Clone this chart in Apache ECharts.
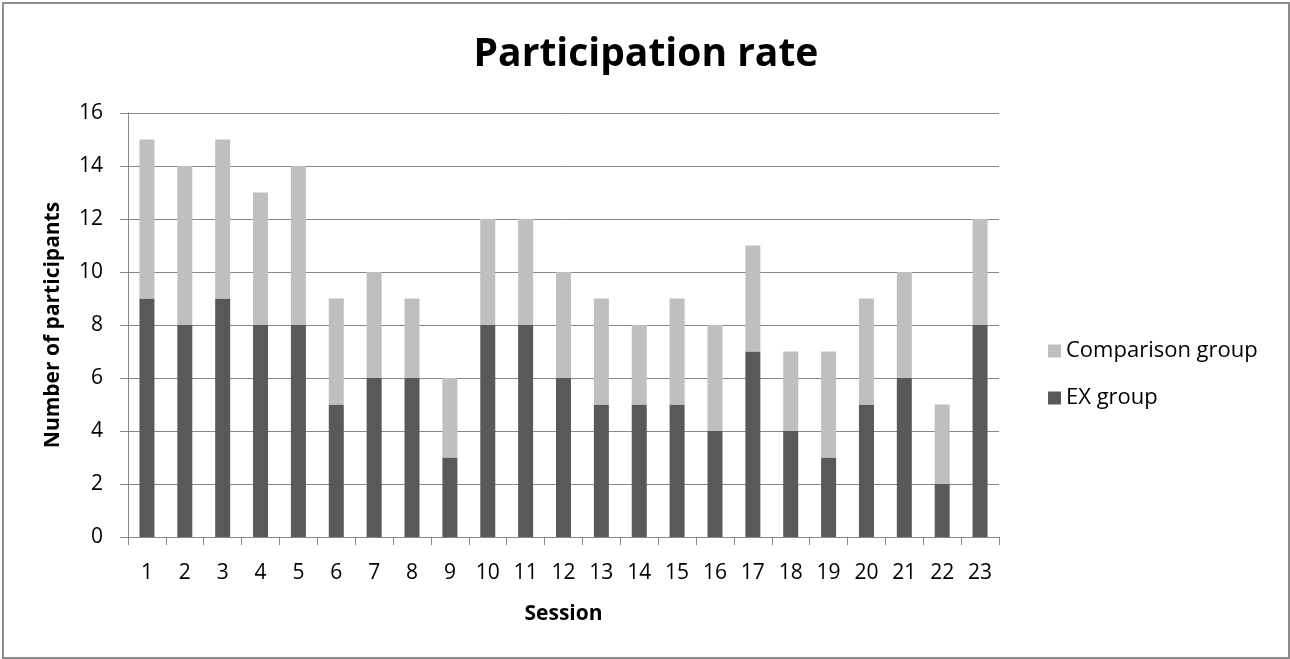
<!DOCTYPE html>
<html><head><meta charset="utf-8">
<script src="https://cdn.jsdelivr.net/npm/echarts@6/dist/echarts.min.js"></script>
<style>
html,body{margin:0;padding:0;background:#fff;}
#c{position:absolute;left:2px;top:2px;width:1284px;height:653px;border:2px solid #8c8c8c;box-sizing:content-box;}
</style></head>
<body><div id="c"></div>
<script>
const sessions = ['1','2','3','4','5','6','7','8','9','10','11','12','13','14','15','16','17','18','19','20','21','22','23'];
const exGroup = [9,8,9,8,8,5,6,6,3,8,8,6,5,5,5,4,7,4,3,5,6,2,8];
const comparisonGroup = [6,6,6,5,6,4,4,3,3,4,4,4,4,3,4,4,4,3,4,4,4,3,4];
const yTicks = [0,2,4,6,8,10,12,14,16];

const chart = echarts.init(document.getElementById('c'));
const font = 'Open Sans, Noto Sans, sans-serif';
chart.setOption({
  animation:false,
  title:{text:'Participation rate',left:'center',top:26,
    textStyle:{fontFamily:font,fontSize:39,fontWeight:'bold',color:'#000'}},
  grid:{left:124,right:289,top:109,bottom:120},
  legend:{orient:'vertical',left:1039,top:331,itemWidth:13,itemHeight:13,itemGap:25,
    icon:'rect',
    data:['Comparison group','EX group'],
    textStyle:{fontFamily:font,fontSize:22,color:'#000'}},
  xAxis:{type:'category',data:sessions,name:'Session',nameLocation:'middle',nameGap:67,
    nameTextStyle:{fontFamily:font,fontSize:21,fontWeight:'bold',color:'#000'},
    axisLine:{lineStyle:{color:'#888'}},
    axisTick:{show:true,length:8,lineStyle:{color:'#888'}},
    axisLabel:{fontFamily:font,fontSize:21,color:'#000',margin:26}},
  yAxis:{type:'value',min:0,max:16,interval:2,name:'Number of participants',nameLocation:'middle',nameGap:64,
    nameTextStyle:{fontFamily:font,fontSize:21,fontWeight:'bold',color:'#000'},
    axisLine:{show:true,lineStyle:{color:'#888'}},
    axisTick:{show:true,length:8,lineStyle:{color:'#888'}},
    splitLine:{lineStyle:{color:'#888'}},
    axisLabel:{fontFamily:font,fontSize:21,color:'#000',margin:25,
      formatter:v=>yTicks.includes(v)?String(v):''}},
  series:[
    {name:'EX group',type:'bar',stack:'a',data:exGroup,barWidth:15,itemStyle:{color:'#595959'}},
    {name:'Comparison group',type:'bar',stack:'a',data:comparisonGroup,barWidth:15,itemStyle:{color:'#bfbfbf'}}
  ]
});
</script></body></html>
